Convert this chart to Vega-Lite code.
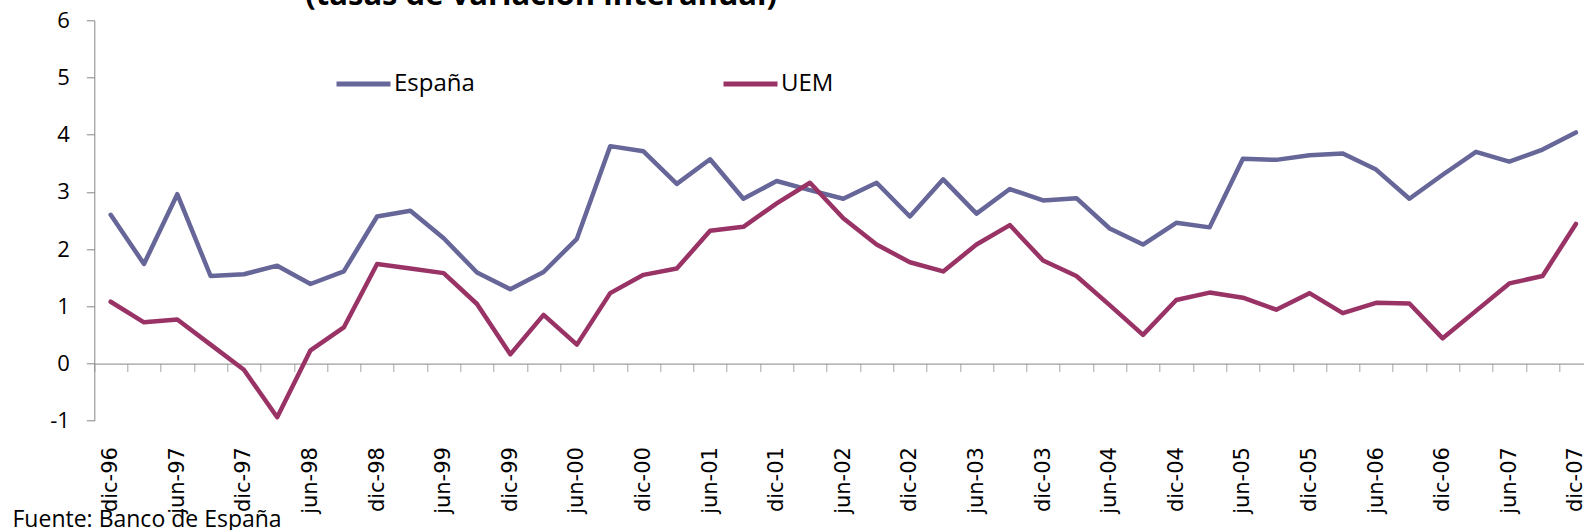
{
  "$schema": "https://vega.github.io/schema/vega-lite/v6.json",
  "width": 1489.7,
  "height": 400.4,
  "autosize": {"type": "none"},
  "padding": {"left": 94.3, "top": 20.3, "right": 0, "bottom": 109.3},
  "background": "white",
  "title": {"text": "(tasas de variación interanual)", "font": "Open Sans", "fontSize": 31, "fontWeight": "bold", "color": "black", "anchor": "start", "frame": "group", "dx": 211, "baseline": "alphabetic", "offset": -27},
  "data": {"values": [
    {"fecha": "dic-96", "serie": "España", "valor": 2.60},
    {"fecha": "mar-97", "serie": "España", "valor": 1.74},
    {"fecha": "jun-97", "serie": "España", "valor": 2.96},
    {"fecha": "sep-97", "serie": "España", "valor": 1.53},
    {"fecha": "dic-97", "serie": "España", "valor": 1.56},
    {"fecha": "mar-98", "serie": "España", "valor": 1.71},
    {"fecha": "jun-98", "serie": "España", "valor": 1.39},
    {"fecha": "sep-98", "serie": "España", "valor": 1.61},
    {"fecha": "dic-98", "serie": "España", "valor": 2.57},
    {"fecha": "mar-99", "serie": "España", "valor": 2.67},
    {"fecha": "jun-99", "serie": "España", "valor": 2.19},
    {"fecha": "sep-99", "serie": "España", "valor": 1.59},
    {"fecha": "dic-99", "serie": "España", "valor": 1.30},
    {"fecha": "mar-00", "serie": "España", "valor": 1.60},
    {"fecha": "jun-00", "serie": "España", "valor": 2.18},
    {"fecha": "sep-00", "serie": "España", "valor": 3.80},
    {"fecha": "dic-00", "serie": "España", "valor": 3.71},
    {"fecha": "mar-01", "serie": "España", "valor": 3.14},
    {"fecha": "jun-01", "serie": "España", "valor": 3.57},
    {"fecha": "sep-01", "serie": "España", "valor": 2.88},
    {"fecha": "dic-01", "serie": "España", "valor": 3.19},
    {"fecha": "mar-02", "serie": "España", "valor": 3.03},
    {"fecha": "jun-02", "serie": "España", "valor": 2.88},
    {"fecha": "sep-02", "serie": "España", "valor": 3.16},
    {"fecha": "dic-02", "serie": "España", "valor": 2.57},
    {"fecha": "mar-03", "serie": "España", "valor": 3.22},
    {"fecha": "jun-03", "serie": "España", "valor": 2.62},
    {"fecha": "sep-03", "serie": "España", "valor": 3.05},
    {"fecha": "dic-03", "serie": "España", "valor": 2.85},
    {"fecha": "mar-04", "serie": "España", "valor": 2.89},
    {"fecha": "jun-04", "serie": "España", "valor": 2.36},
    {"fecha": "sep-04", "serie": "España", "valor": 2.08},
    {"fecha": "dic-04", "serie": "España", "valor": 2.46},
    {"fecha": "mar-05", "serie": "España", "valor": 2.38},
    {"fecha": "jun-05", "serie": "España", "valor": 3.58},
    {"fecha": "sep-05", "serie": "España", "valor": 3.56},
    {"fecha": "dic-05", "serie": "España", "valor": 3.64},
    {"fecha": "mar-06", "serie": "España", "valor": 3.67},
    {"fecha": "jun-06", "serie": "España", "valor": 3.39},
    {"fecha": "sep-06", "serie": "España", "valor": 2.88},
    {"fecha": "dic-06", "serie": "España", "valor": 3.30},
    {"fecha": "mar-07", "serie": "España", "valor": 3.70},
    {"fecha": "jun-07", "serie": "España", "valor": 3.53},
    {"fecha": "sep-07", "serie": "España", "valor": 3.74},
    {"fecha": "dic-07", "serie": "España", "valor": 4.04},
    {"fecha": "dic-96", "serie": "UEM", "valor": 1.08},
    {"fecha": "mar-97", "serie": "UEM", "valor": 0.72},
    {"fecha": "jun-97", "serie": "UEM", "valor": 0.77},
    {"fecha": "sep-97", "serie": "UEM", "valor": 0.33},
    {"fecha": "dic-97", "serie": "UEM", "valor": -0.11},
    {"fecha": "mar-98", "serie": "UEM", "valor": -0.94},
    {"fecha": "jun-98", "serie": "UEM", "valor": 0.23},
    {"fecha": "sep-98", "serie": "UEM", "valor": 0.63},
    {"fecha": "dic-98", "serie": "UEM", "valor": 1.74},
    {"fecha": "mar-99", "serie": "UEM", "valor": 1.66},
    {"fecha": "jun-99", "serie": "UEM", "valor": 1.58},
    {"fecha": "sep-99", "serie": "UEM", "valor": 1.04},
    {"fecha": "dic-99", "serie": "UEM", "valor": 0.16},
    {"fecha": "mar-00", "serie": "UEM", "valor": 0.85},
    {"fecha": "jun-00", "serie": "UEM", "valor": 0.33},
    {"fecha": "sep-00", "serie": "UEM", "valor": 1.23},
    {"fecha": "dic-00", "serie": "UEM", "valor": 1.55},
    {"fecha": "mar-01", "serie": "UEM", "valor": 1.66},
    {"fecha": "jun-01", "serie": "UEM", "valor": 2.32},
    {"fecha": "sep-01", "serie": "UEM", "valor": 2.39},
    {"fecha": "dic-01", "serie": "UEM", "valor": 2.80},
    {"fecha": "mar-02", "serie": "UEM", "valor": 3.16},
    {"fecha": "jun-02", "serie": "UEM", "valor": 2.54},
    {"fecha": "sep-02", "serie": "UEM", "valor": 2.08},
    {"fecha": "dic-02", "serie": "UEM", "valor": 1.77},
    {"fecha": "mar-03", "serie": "UEM", "valor": 1.61},
    {"fecha": "jun-03", "serie": "UEM", "valor": 2.08},
    {"fecha": "sep-03", "serie": "UEM", "valor": 2.42},
    {"fecha": "dic-03", "serie": "UEM", "valor": 1.80},
    {"fecha": "mar-04", "serie": "UEM", "valor": 1.53},
    {"fecha": "jun-04", "serie": "UEM", "valor": 1.02},
    {"fecha": "sep-04", "serie": "UEM", "valor": 0.50},
    {"fecha": "dic-04", "serie": "UEM", "valor": 1.11},
    {"fecha": "mar-05", "serie": "UEM", "valor": 1.24},
    {"fecha": "jun-05", "serie": "UEM", "valor": 1.15},
    {"fecha": "sep-05", "serie": "UEM", "valor": 0.94},
    {"fecha": "dic-05", "serie": "UEM", "valor": 1.23},
    {"fecha": "mar-06", "serie": "UEM", "valor": 0.88},
    {"fecha": "jun-06", "serie": "UEM", "valor": 1.06},
    {"fecha": "sep-06", "serie": "UEM", "valor": 1.05},
    {"fecha": "dic-06", "serie": "UEM", "valor": 0.44},
    {"fecha": "mar-07", "serie": "UEM", "valor": 0.92},
    {"fecha": "jun-07", "serie": "UEM", "valor": 1.40},
    {"fecha": "sep-07", "serie": "UEM", "valor": 1.53},
    {"fecha": "dic-07", "serie": "UEM", "valor": 2.44}
  ]},
  "mark": {"type": "line", "strokeWidth": 4.5, "strokeCap": "round", "strokeJoin": "round"},
  "encoding": {
    "x": {
      "field": "fecha", "type": "ordinal", "sort": null,
      "scale": {"type": "point", "padding": 0.368, "align": 0.669},
      "axis": {
        "title": "Fuente: Banco de España", "titleFont": "Open Sans", "titleFontSize": 23, "titleFontWeight": "normal", "titleColor": "black",
        "titleX": -82.3, "titleY": 162.7, "titleAlign": "left", "titleBaseline": "alphabetic", "titleAngle": 0,
        "offset": -57.1, "domainColor": "#868686", "tickColor": "#a6a6a6", "tickSize": 8,
        "tickOffset": -16.65, "labelOffset": 16.65,
        "labelAngle": -90, "labelAlign": "right", "labelBaseline": "middle", "labelPadding": 75,
        "labelFont": "DejaVu Sans", "labelFontSize": 21, "labelColor": "black", "labelOverlap": false, "labelBound": false,
        "labelExpr": "(indexof(datum.value,'mar')==0 || indexof(datum.value,'sep')==0) ? '' : datum.value"
      }
    },
    "y": {
      "field": "valor", "type": "quantitative",
      "scale": {"domain": [-1, 6], "nice": false, "zero": false},
      "axis": {"title": null, "values": [-1, 0, 1, 2, 3, 4, 5, 6], "grid": false, "domainColor": "#868686", "tickColor": "#868686", "tickSize": 8,
        "labelExpr": "'' + datum.value",
        "labelFont": "Open Sans", "labelFontSize": 22, "labelColor": "black", "labelPadding": 17}
    },
    "color": {
      "field": "serie", "type": "nominal",
      "scale": {"domain": ["España", "UEM"], "range": ["#666699", "#993366"]},
      "legend": {"orient": "none", "legendX": 239.7, "legendY": 34, "direction": "horizontal", "title": null,
        "symbolType": "stroke", "symbolSize": 2916, "symbolStrokeWidth": 5,
        "labelFont": "Open Sans", "labelFontSize": 24, "labelColor": "black", "labelOffset": 1,
        "columnPadding": 238, "gridAlign": "all", "padding": 0, "labelLimit": 500}
    }
  },
  "config": {"view": {"stroke": null}, "axis": {"domainWidth": 1, "tickWidth": 1}}
}
